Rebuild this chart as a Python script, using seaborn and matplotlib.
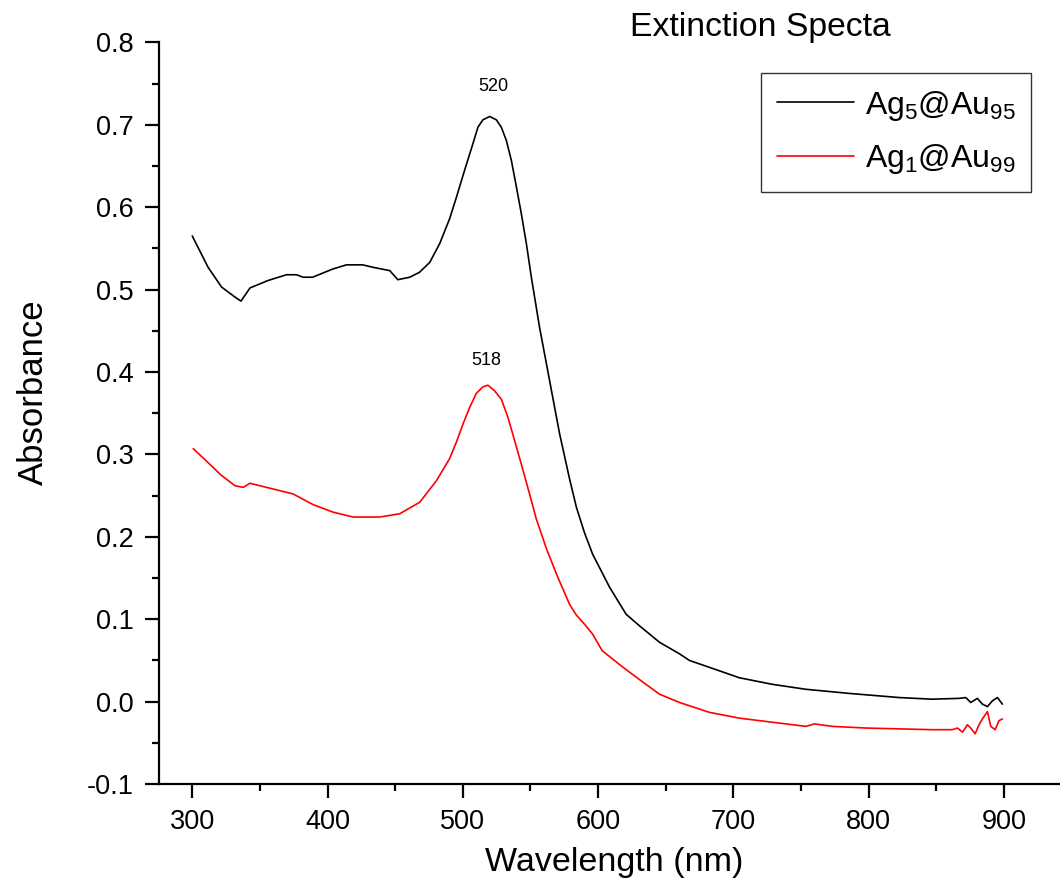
import matplotlib
matplotlib.use("Agg")
import matplotlib.pyplot as plt
import seaborn as sns
import pandas as pd
from matplotlib.ticker import MultipleLocator

# --- data ---
wl_ag5 = [300, 311.7, 321.7, 331.5, 336, 342.7, 356, 369.7, 377, 382, 389, 404, 414, 426, 433.7,
          446, 452, 460.8, 468, 475.6, 483, 490.3, 495.3, 501.4, 507.5, 511.2, 514.9, 519.9,
          524.8, 528.5, 532.2, 535.9, 539.6, 543.3, 547, 550.7, 556.8, 563, 571.6, 579, 584,
          590, 596, 608.5, 620.8, 630.7, 645.5, 660.3, 667.6, 687, 704.5, 729, 753.8, 785.8,
          822.6, 847, 867, 871.9, 875.6, 880.5, 884.2, 887.9, 891.6, 895.3, 899]
abs_ag5 = [0.565, 0.527, 0.503, 0.491, 0.486, 0.502, 0.511, 0.518, 0.518, 0.515, 0.515, 0.525,
           0.530, 0.530, 0.527, 0.523, 0.512, 0.515, 0.521, 0.533, 0.556, 0.586, 0.612, 0.645,
           0.677, 0.697, 0.706, 0.710, 0.706, 0.697, 0.681, 0.657, 0.625, 0.592, 0.556, 0.515,
           0.454, 0.400, 0.325, 0.270, 0.236, 0.205, 0.179, 0.139, 0.106, 0.092, 0.072, 0.058,
           0.050, 0.039, 0.029, 0.021, 0.015, 0.010, 0.005, 0.003, 0.004, 0.005, -0.001, 0.004,
           -0.003, -0.006, 0.001, 0.005, -0.003]

wl_ag1 = [300.7, 314.3, 320.5, 331.5, 337.7, 342.6, 350, 357.4, 374.6, 389.4, 404, 419, 438.6,
          453.4, 468.2, 480.5, 490.3, 495.3, 500.2, 505.1, 510, 514.9, 518.6, 523.6, 528.5,
          533.4, 538.3, 543.3, 549.4, 554.3, 562, 570, 579, 584, 590, 596, 603, 615.9, 628,
          645.5, 660.3, 682.4, 704.5, 729, 753.8, 760, 773.4, 798, 822.6, 847, 862, 865.8, 869.5,
          873.1, 875.6, 878.8, 881.7, 884.2, 887.9, 890.4, 893.6, 896.5, 899]
abs_ag1 = [0.307, 0.286, 0.276, 0.262, 0.260, 0.265, 0.262, 0.259, 0.252, 0.239, 0.230, 0.224,
           0.224, 0.228, 0.242, 0.268, 0.295, 0.315, 0.337, 0.357, 0.374, 0.382, 0.384, 0.377,
           0.367, 0.345, 0.317, 0.288, 0.252, 0.222, 0.185, 0.152, 0.118, 0.105, 0.094, 0.082,
           0.062, 0.045, 0.030, 0.009, -0.001, -0.013, -0.020, -0.025, -0.030, -0.027, -0.030,
           -0.032, -0.033, -0.034, -0.034, -0.032, -0.037, -0.028, -0.032, -0.039, -0.028,
           -0.021, -0.012, -0.030, -0.034, -0.023, -0.021]

series_labels = [r'Ag$_\mathregular{5}$@Au$_\mathregular{95}$',
                 r'Ag$_\mathregular{1}$@Au$_\mathregular{99}$']
peak_labels = ["520", "518"]
peak_pos = [(523, 0.746), (517.4, 0.414)]
x_ticks = [300, 400, 500, 600, 700, 800, 900]
y_ticks = [-0.1, 0.0, 0.1, 0.2, 0.3, 0.4, 0.5, 0.6, 0.7, 0.8]

sns.set_style("ticks")
plt.rcParams['font.family'] = ['Liberation Sans', 'DejaVu Sans']
plt.rcParams['mathtext.fontset'] = 'custom'
plt.rcParams['mathtext.rm'] = 'Liberation Sans'
plt.rcParams['mathtext.it'] = 'Liberation Sans:italic'
plt.rcParams['mathtext.bf'] = 'Liberation Sans:bold'
for k in ['text.color', 'axes.labelcolor', 'xtick.color', 'ytick.color', 'axes.edgecolor']:
    plt.rcParams[k] = 'black'

fig = plt.figure(figsize=(10.6, 8.91), dpi=100)
ax = fig.add_axes([0.150, 0.120, 0.849, 0.8325])

df1 = pd.DataFrame({"Wavelength": wl_ag5, "Absorbance": abs_ag5})
df2 = pd.DataFrame({"Wavelength": wl_ag1, "Absorbance": abs_ag1})
sns.lineplot(data=df1, x="Wavelength", y="Absorbance", ax=ax, color="black", lw=1.2,
             label=series_labels[0])
sns.lineplot(data=df2, x="Wavelength", y="Absorbance", ax=ax, color="red", lw=1.2,
             label=series_labels[1])

for txt, (xx, yy) in zip(peak_labels, peak_pos):
    ax.text(xx, yy, txt, ha="center", va="center", fontsize=13)

ax.set_xlim(275.4, 940.8)
ax.set_ylim(-0.1, 0.8)
ax.set_xticks(x_ticks)
ax.set_yticks(y_ticks)
ax.set_yticklabels([f"{v:.1f}" for v in y_ticks])
ax.xaxis.set_minor_locator(MultipleLocator(50))
ax.yaxis.set_minor_locator(MultipleLocator(0.05))
ax.tick_params(which="major", direction="out", length=10, width=1.6, labelsize=19.5, pad=8)
ax.tick_params(which="minor", direction="out", length=5, width=1.6)
for s in ["top", "right"]:
    ax.spines[s].set_visible(False)
for s in ["left", "bottom"]:
    ax.spines[s].set_linewidth(1.6)

ax.set_xlabel("Wavelength (nm)", fontsize=24.5)
ax.set_ylabel("Absorbance", fontsize=25)
ax.yaxis.set_label_coords(-0.121, 0.528)
ax.xaxis.set_label_coords(0.506, -0.085)
fig.text(0.717, 1 - 36 / 891, "Extinction Specta", fontsize=24.3, ha="center", va="baseline")

leg = ax.legend(loc="upper left", bbox_to_anchor=(761 / 1060, 1 - 72.7 / 891),
                bbox_transform=fig.transFigure, fontsize=23, frameon=True,
                fancybox=False, edgecolor="black", handlelength=2.4, borderpad=0.5,
                labelspacing=0.6, handletextpad=0.35, borderaxespad=0)
leg.get_frame().set_linewidth(1.0)
for line in leg.get_lines():
    line.set_linewidth(1.2)

fig.savefig("out.png", dpi=100)
